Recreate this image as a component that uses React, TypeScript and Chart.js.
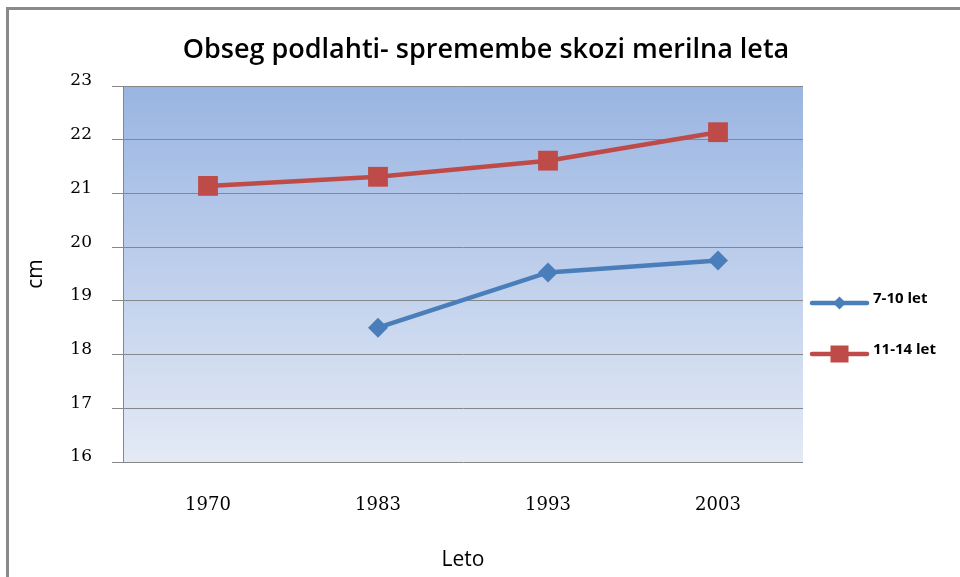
import React, { useEffect, useRef } from 'react';
import { Chart, registerables } from 'chart.js';

Chart.register(...registerables);

// ---- data ----
const categories = ['1970', '1983', '1993', '2003'];
const seriesNames = ['7-10 let', '11-14 let'];
const values7to10 = [null, 18.5, 19.53, 19.75];
const values11to14 = [21.14, 21.31, 21.61, 22.14];
const yMin = 16;
const yMax = 23;
const yStep = 1;
const titleText = 'Obseg podlahti- spremembe skozi merilna leta';
const xAxisTitle = 'Leto';
const yAxisTitle = 'cm';

// ---- styles ----
const BLUE = '#4A7EBB';
const RED = '#BE4B48';
const GRID = '#878787';
const SANS = '"Open Sans", "DejaVu Sans", sans-serif';
const SERIF = '"DejaVu Serif", "Liberation Serif", serif';

const bgPlugin = {
  id: 'plotBg',
  beforeDraw(chart: any) {
    const { ctx, chartArea } = chart;
    if (!chartArea) return;
    ctx.save();
    ctx.fillStyle = '#ffffff';
    ctx.fillRect(0, 0, chart.width, chart.height);
    const g = ctx.createLinearGradient(0, chartArea.top, 0, chartArea.bottom);
    g.addColorStop(0, '#9AB5E2');
    g.addColorStop(1, '#E4EAF6');
    ctx.fillStyle = g;
    ctx.fillRect(chartArea.left, chartArea.top, chartArea.right - chartArea.left, chartArea.bottom - chartArea.top);
    ctx.restore();
  },
  afterDraw(chart: any) {
    const { ctx } = chart;
    ctx.save();
    // outer chart frame (top and left edges visible)
    ctx.fillStyle = '#8a8a8a';
    ctx.fillRect(6, 7, chart.width - 6, 3);
    ctx.fillRect(6, 7, 3, chart.height - 7);
    // chart title centred on the whole chart
    ctx.fillStyle = '#000000';
    ctx.font = `600 27px ${SANS}`;
    ctx.textAlign = 'center';
    ctx.textBaseline = 'middle';
    ctx.fillText(titleText, chart.width / 2 + 6, 50);
    ctx.restore();
  },
};

const legendPlugin = {
  id: 'sideLegend',
  afterDraw(chart: any) {
    const { ctx, chartArea } = chart;
    chart.data.datasets.forEach((ds: any, i: number) => {
      const y = chartArea.top + 217 + i * 51;
      const x0 = chartArea.right + 9;
      const x1 = x0 + 55;
      const cx = (x0 + x1) / 2;
      ctx.save();
      ctx.strokeStyle = ds.borderColor;
      ctx.lineWidth = 4.5;
      ctx.lineCap = 'round';
      ctx.beginPath();
      ctx.moveTo(x0, y);
      ctx.lineTo(x1, y);
      ctx.stroke();
      ctx.fillStyle = ds.borderColor;
      if (ds.pointStyle === 'rect') {
        ctx.fillRect(cx - 9, y - 8.5, 18, 17);
      } else {
        const r = 6.5;
        ctx.beginPath();
        ctx.moveTo(cx - r, y);
        ctx.lineTo(cx, y - r);
        ctx.lineTo(cx + r, y);
        ctx.lineTo(cx, y + r);
        ctx.closePath();
        ctx.fill();
      }
      ctx.fillStyle = '#000000';
      ctx.font = `bold 15px ${SANS}`;
      ctx.textBaseline = 'middle';
      ctx.textAlign = 'left';
      ctx.fillText(ds.label, x1 + 6, y - 4);
      ctx.restore();
    });
  },
};

export default function App() {
  const ref = useRef<HTMLCanvasElement | null>(null);

  useEffect(() => {
    if (!ref.current) return;
    const chart = new Chart(ref.current, {
      type: 'line',
      data: {
        labels: categories,
        datasets: [
          {
            label: seriesNames[0],
            data: values7to10,
            borderColor: BLUE,
            backgroundColor: BLUE,
            borderWidth: 4.5,
            pointStyle: 'rectRot',
            pointRadius: 10,
            pointHoverRadius: 10,
            pointBorderWidth: 0,
            tension: 0,
          },
          {
            label: seriesNames[1],
            data: values11to14,
            borderColor: RED,
            backgroundColor: RED,
            borderWidth: 4.5,
            pointStyle: 'rect',
            pointRadius: 14,
            pointHoverRadius: 14,
            pointBorderWidth: 0,
            tension: 0,
          },
        ],
      },
      options: {
        responsive: false,
        animation: false,
        layout: { padding: { left: 23, right: 157, top: 86, bottom: 0 } },
        plugins: {
          legend: { display: false },
          tooltip: { enabled: false },
          title: { display: false },
        },
        scales: {
          x: {
            offset: true,
            grid: { display: false, drawTicks: false },
            border: { display: false },
            afterFit: (scale: any) => {
              scale.height = 115;
            },
            ticks: {
              color: '#000000',
              font: { family: SERIF, size: 18 },
              padding: 33,
            },
            title: {
              display: true,
              text: xAxisTitle,
              color: '#000000',
              font: { family: SANS, size: 21 },
              padding: { top: 0, bottom: 4 },
            },
          },
          y: {
            min: yMin,
            max: yMax,
            afterFit: (scale: any) => {
              scale.width = 100;
            },
            ticks: {
              stepSize: yStep,
              color: '#000000',
              font: { family: SERIF, size: 17 },
              padding: 20,
              labelOffset: -5,
            },
            grid: { color: GRID, lineWidth: 1, tickLength: 11, tickColor: GRID },
            border: { display: true, color: GRID, width: 1 },
            title: {
              display: true,
              text: yAxisTitle,
              color: '#000000',
              font: { family: SANS, size: 21 },
              padding: { top: 0, bottom: 0 },
            },
          },
        },
      },
      plugins: [bgPlugin, legendPlugin],
    });
    return () => chart.destroy();
  }, []);

  return (
    <div style={{ position: 'absolute', left: 0, top: 0, width: 960, height: 577, background: '#fff' }}>
      <canvas ref={ref} width={960} height={577} style={{ display: 'block' }} />
    </div>
  );
}
